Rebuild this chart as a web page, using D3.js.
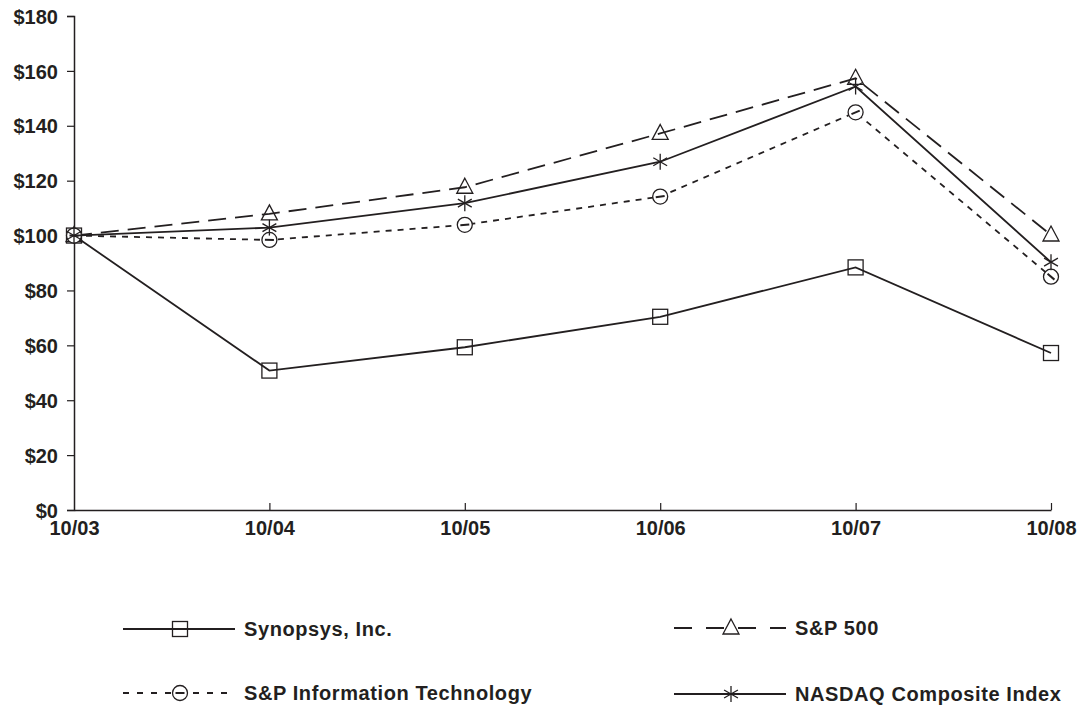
<!DOCTYPE html>
<html>
<head>
<meta charset="utf-8">
<script src="https://cdn.jsdelivr.net/npm/d3@7"></script>
<style>
	body { margin: 0; background: #fff; }
	text { font-family: 'Liberation Sans', Arial, sans-serif; font-weight: bold; fill: #231f20; }
</style>
</head>
<body>
<svg id="chart" width="1084" height="706"></svg>
<script>
// data
let periods = ['10/03', '10/04', '10/05', '10/06', '10/07', '10/08']
let synopsys = [100, 50.8, 59.3, 70.4, 88.4, 57.2]
let sp500 = [100, 107.9, 117.6, 137.2, 157.3, 100.2]
let spIT = [100, 98.4, 103.9, 114.2, 144.9, 85.0]
let nasdaq = [100, 102.9, 111.8, 126.9, 154.3, 90.3]
let yTicks = [0, 20, 40, 60, 80, 100, 120, 140, 160, 180]

const ink = '#231f20'

const series = [
	{name: 'Synopsys, Inc.', values: synopsys, dash: null, marker: 'square'},
	{name: 'S&P 500', values: sp500, dash: '18,9', marker: 'triangle'},
	{name: 'S&P Information Technology', values: spIT, dash: '6,6', marker: 'circle'},
	{name: 'NASDAQ Composite Index', values: nasdaq, dash: null, marker: 'star'}
]

const svg = d3.select('#chart')

const x = d3.scalePoint().domain(periods).range([74, 1051])
const y = d3.scaleLinear().domain([0, 180]).range([510, 16])

// y axis
const yAxis = svg.append('g')
	.attr('transform', 'translate(74,0)')
	.call(d3.axisLeft(y).tickValues(yTicks).tickSize(7).tickPadding(9).tickFormat(d => '$' + d))
yAxis.select('.domain').attr('stroke', ink).attr('stroke-width', 1.5)
yAxis.selectAll('.tick line').attr('stroke', ink).attr('stroke-width', 1.2)
yAxis.selectAll('.tick text').style('font-size', '20px').attr('fill', ink).attr('dy', '0.36em')

// x axis, ticks point inwards
const xAxis = svg.append('g')
	.attr('transform', 'translate(0,510)')
	.call(d3.axisBottom(x).tickSize(-7).tickSizeOuter(0).tickPadding(11))
xAxis.select('.domain').attr('stroke', ink).attr('stroke-width', 1.5)
xAxis.selectAll('.tick line').attr('stroke', ink).attr('stroke-width', 1.2)
	.filter(d => d == periods[0]).remove()
xAxis.selectAll('.tick text').style('font-size', '20px').attr('fill', ink)

function drawMarker(g, type, cx, cy, angle) {
	if (type == 'square') {
		g.append('rect').attr('x', cx - 7.5).attr('y', cy - 7.5).attr('width', 15).attr('height', 15)
			.attr('fill', 'none').attr('stroke', ink).attr('stroke-width', 1.3)
	} else if (type == 'triangle') {
		g.append('path').attr('d', `M${cx},${cy - 9}L${cx + 8},${cy + 6}L${cx - 8},${cy + 6}Z`)
			.attr('fill', 'none').attr('stroke', ink).attr('stroke-width', 1.3)
	} else if (type == 'circle') {
		g.append('circle').attr('cx', cx).attr('cy', cy).attr('r', 7.5)
			.attr('fill', '#fff').attr('stroke', ink).attr('stroke-width', 1.3)
		g.append('line')
			.attr('x1', cx - 4.5).attr('x2', cx + 4.5).attr('y1', cy).attr('y2', cy)
			.attr('transform', `rotate(${angle},${cx},${cy})`)
			.attr('stroke', ink).attr('stroke-width', 2)
	} else {
		let r = 8
		g.append('line').attr('x1', cx).attr('x2', cx).attr('y1', cy - r).attr('y2', cy + r)
			.attr('stroke', ink).attr('stroke-width', 1.3)
		;[30, -30].forEach(a => {
			let dx = r * Math.cos(a * Math.PI / 180), dy = r * Math.sin(a * Math.PI / 180)
			g.append('line').attr('x1', cx - dx).attr('x2', cx + dx).attr('y1', cy - dy).attr('y2', cy + dy)
				.attr('stroke', ink).attr('stroke-width', 1.3)
		})
	}
}

const line = d3.line().x((d, i) => x(periods[i])).y(d => y(d))

series.forEach(s => {
	let g = svg.append('g')
	g.append('path')
		.attr('d', line(s.values))
		.attr('fill', 'none')
		.attr('stroke', ink)
		.attr('stroke-width', 1.8)
		.attr('stroke-dasharray', s.dash)
	s.values.forEach((v, i) => {
		let j = i == 0 ? 1 : i
		let ang = Math.atan2(y(s.values[j]) - y(s.values[j - 1]), x(periods[j]) - x(periods[j - 1])) * 180 / Math.PI
		drawMarker(g, s.marker, x(periods[i]), y(v), ang)
	})
})

// legend
const legendPos = [
	{x: 123, y: 629}, {x: 674, y: 628},
	{x: 123, y: 693}, {x: 674, y: 694}
]
series.forEach((s, i) => {
	let p = legendPos[i]
	let g = svg.append('g').attr('class', 'legend')
	g.append('line')
		.attr('x1', p.x).attr('x2', p.x + 112).attr('y1', p.y).attr('y2', p.y)
		.attr('stroke', ink).attr('stroke-width', 1.8)
		.attr('stroke-dasharray', s.dash == '6,6' ? '6,8' : (s.dash ? '18,14' : null))
	drawMarker(g, s.marker, p.x + 57, p.y, 0)
	g.append('text')
		.attr('x', p.x + 121).attr('y', p.y)
		.attr('dy', '0.36em')
		.style('font-size', '20px')
		.style('letter-spacing', '0.6px')
		.text(s.name)
})
</script>
</body>
</html>
